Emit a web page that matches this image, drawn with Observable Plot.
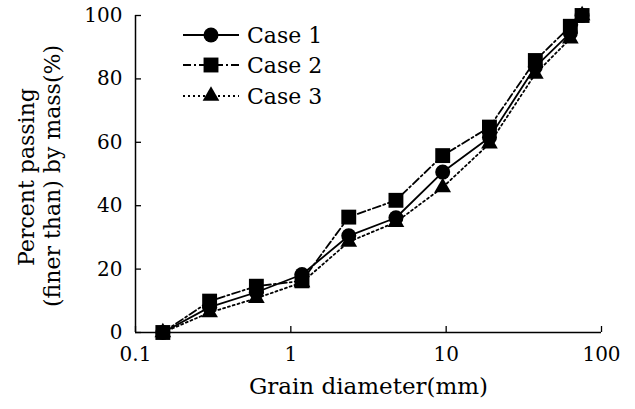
<!DOCTYPE html>
<html>
<head>
<meta charset="utf-8">
<script src="https://cdn.jsdelivr.net/npm/d3@7"></script>
<script src="https://cdn.jsdelivr.net/npm/@observablehq/plot@0.6"></script>
<style>
  html, body { margin: 0; padding: 0; background: #fff; }
  #chart { width: 635px; height: 409px; }
</style>
</head>
<body>
<div id="chart"></div>
<script>
// Sieve sizes (mm) and cumulative percent passing for each gradation case
const diameters = [0.15, 0.3, 0.6, 1.18, 2.36, 4.75, 9.5, 19, 37.5, 63, 75];
const case1 = [0, 8, 12.7, 18.3, 30.5, 36.2, 50.6, 61.5, 83.8, 94.5, 100];
const case2 = [0, 9.9, 14.6, 16.3, 36.4, 41.7, 55.8, 64.8, 85.8, 96.6, 100];
const case3 = [0, 6.3, 10.8, 15.8, 28.6, 34.8, 45.8, 59.6, 81.6, 92.7, 100];
const caseNames = ["Case 1", "Case 2", "Case 3"];
const xTicks = [0.1, 1, 10, 100];
const yTicks = [0, 20, 40, 60, 80, 100];
const xTitle = "Grain diameter(mm)";
const yTitle = ["Percent passing", "(finer than) by mass(%)"];

const font = "DejaVu Serif";
const series = [
  {name: caseNames[0], values: case1, symbol: "circle",   r: 7.5, dash: null},
  {name: caseNames[1], values: case2, symbol: "square",   r: 8.4, dash: "8,3,2,3"},
  {name: caseNames[2], values: case3, symbol: "triangle", r: 6.2, dash: "2,3"}
];
const tables = series.map(s => diameters.map((d, i) => ({d, p: s.values[i]})));

const lineMarks = series.map((s, k) => Plot.line(tables[k], {
  x: "d", y: "p", stroke: "black", strokeWidth: 1.8,
  strokeDasharray: s.dash ?? undefined
}));
// triangles underneath, then circles, squares on top
const dotMarks = [2, 0, 1].map(k => Plot.dot(tables[k], {
  x: "d", y: "p", symbol: series[k].symbol, r: series[k].r, fill: "black", stroke: "none"
}));

const chart = Plot.plot({
  width: 635,
  height: 409,
  marginLeft: 135,
  marginRight: 34,
  marginTop: 15,
  marginBottom: 77,
  style: {fontFamily: font, fontSize: "20px", color: "black", background: "white"},
  x: {type: "log", domain: [0.1, 100], axis: null},
  y: {domain: [0, 100], axis: null},
  marks: [
    // axis lines
    Plot.ruleX([0.1], {stroke: "black", strokeWidth: 1.5}),
    Plot.ruleY([0], {stroke: "black", strokeWidth: 1.5}),
    // inward tick marks
    Plot.ruleX(xTicks, {x: d => d, y1: 0, y2: 0, insetTop: -6, stroke: "black", strokeWidth: 1.3}),
    Plot.ruleY(yTicks, {y: d => d, x1: 0.1, x2: 0.1, insetRight: -6, stroke: "black", strokeWidth: 1.3}),
    // tick labels
    Plot.axisX(xTicks, {label: null, tickSize: 0, tickPadding: 14, tickFormat: d => String(d), fontSize: 20, fill: "black"}),
    Plot.axisY(yTicks, {label: null, tickSize: 0, tickPadding: 13, tickFormat: d => String(d), fontSize: 20, fill: "black"}),
    // axis titles
    Plot.text([xTitle], {frameAnchor: "bottom", textAnchor: "middle", text: d => d, lineAnchor: "bottom", dy: 61, fontSize: 23, fill: "black"}),
    Plot.text([yTitle[0]], {frameAnchor: "left", textAnchor: "middle", text: d => d, rotate: -90, lineAnchor: "bottom", dx: -102, dy: 3, fontSize: 22, fill: "black"}),
    Plot.text([yTitle[1]], {frameAnchor: "left", textAnchor: "middle", text: d => d, rotate: -90, lineAnchor: "bottom", dx: -76, dy: 2, fontSize: 22, fill: "black"}),
    ...lineMarks,
    ...dotMarks
  ]
});

// Legend in the upper-left corner of the plot area
const svg = d3.select(chart);
const legend = svg.append("g")
  .attr("font-family", font)
  .attr("font-size", 22)
  .attr("text-anchor", "start");
const rowY = [35, 65, 96];
const symbolTypes = {circle: d3.symbolCircle, square: d3.symbolSquare, triangle: d3.symbolTriangle};
series.forEach((s, k) => {
  const g = legend.append("g").attr("transform", `translate(0,${rowY[k]})`);
  g.append("line")
    .attr("x1", 183).attr("x2", 239).attr("y1", 0).attr("y2", 0)
    .attr("stroke", "black").attr("stroke-width", 1.8)
    .attr("stroke-dasharray", s.dash);
  g.append("path")
    .attr("transform", "translate(211,0)")
    .attr("d", d3.symbol(symbolTypes[s.symbol], Math.PI * s.r * s.r)())
    .attr("fill", "black");
  g.append("text")
    .attr("x", 247).attr("y", 0).attr("dy", "0.36em")
    .attr("fill", "black")
    .text(s.name);
});

document.getElementById("chart").append(chart);
</script>
</body>
</html>
